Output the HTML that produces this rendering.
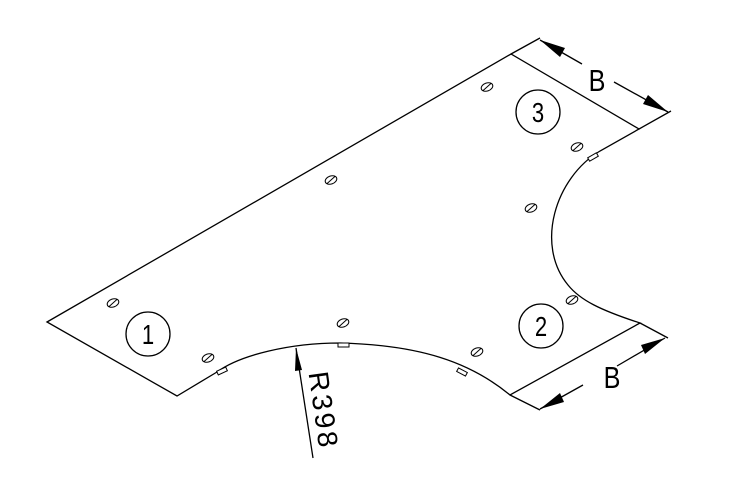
<!DOCTYPE html>
<html><head><style>body{margin:0;background:#fff}svg{display:block}</style></head><body>
<svg width="734" height="499" viewBox="0 0 734 499" xmlns="http://www.w3.org/2000/svg" font-family="Liberation Sans, sans-serif">
<g fill="none" stroke="#000" stroke-width="1.3">
<path d="M47,322 L511,54 L639,129 L600,151 C555,178 535,245 568,285 C580,300 600,310 640,323 L510,395 C470,362 420,345 340,343 C290,343 240,355 217,372 L177,396 Z"/>
<path d="M511,54 L540,38 M639,129 L671,111 M640,323 L668,338 M510,395 L540,410"/>
<path d="M540,40 L582,64 M614,82 L668,112 M540,409 L583,385 M617,366 L665,338 M296,348 L313,458"/>
<circle cx="148" cy="334" r="22"/><circle cx="541" cy="326" r="22"/><circle cx="538" cy="112" r="22"/>
</g>
<g fill="#000">
<path d="M540,40 L565,48 L560,57 Z"/><path d="M668,112 L643,104 L648,95 Z"/>
<path d="M540,409 L560,393 L564,402 Z"/><path d="M665,338 L645,354 L641,345 Z"/>
<path d="M296,348 L302,370 L295,371 Z"/>
</g>
<g fill="#fff" stroke="#000" stroke-width="1">
<g transform="translate(113,303) rotate(-20)"><ellipse rx="6" ry="4"/><line x1="-5" y1="2" x2="5" y2="-2"/></g>
<g transform="translate(208,358) rotate(-20)"><ellipse rx="6" ry="4"/><line x1="-5" y1="2" x2="5" y2="-2"/></g>
<g transform="translate(331,180) rotate(-20)"><ellipse rx="6" ry="4"/><line x1="-5" y1="2" x2="5" y2="-2"/></g>
<g transform="translate(487,87) rotate(-20)"><ellipse rx="6" ry="4"/><line x1="-5" y1="2" x2="5" y2="-2"/></g>
<g transform="translate(577,147) rotate(-20)"><ellipse rx="6" ry="4"/><line x1="-5" y1="2" x2="5" y2="-2"/></g>
<g transform="translate(531,208) rotate(-20)"><ellipse rx="6" ry="4"/><line x1="-5" y1="2" x2="5" y2="-2"/></g>
<g transform="translate(572,300) rotate(-20)"><ellipse rx="6" ry="4"/><line x1="-5" y1="2" x2="5" y2="-2"/></g>
<g transform="translate(343,323) rotate(-20)"><ellipse rx="6" ry="4"/><line x1="-5" y1="2" x2="5" y2="-2"/></g>
<g transform="translate(477,352) rotate(-20)"><ellipse rx="6" ry="4"/><line x1="-5" y1="2" x2="5" y2="-2"/></g>
<rect x="217" y="369" width="10" height="4" transform="rotate(-25 222 371)"/>
<rect x="338" y="343" width="11" height="4"/>
<rect x="457" y="370" width="10" height="4" transform="rotate(28 462 372)"/>
<rect x="588" y="155" width="10" height="4" transform="rotate(-30 593 157)"/>
</g>
<g fill="#000" text-anchor="middle">
<text x="597" y="91" font-size="28" transform="translate(597,91) scale(0.9,1.1) translate(-597,-91)">B</text>
<text x="612" y="388" font-size="28" transform="translate(612,388) scale(0.9,1.1) translate(-612,-388)">B</text>
<text x="148" y="344" font-size="26" transform="translate(148,344) scale(0.85,1.05) translate(-148,-344)">1</text>
<text x="541" y="336" font-size="26" transform="translate(541,336) scale(0.85,1.05) translate(-541,-336)">2</text>
<text x="538" y="122" font-size="26" transform="translate(538,122) scale(0.85,1.05) translate(-538,-122)">3</text>
<text transform="translate(314,412) rotate(82)" font-size="28" letter-spacing="3">R398</text>
</g>
</svg>
</body></html>
